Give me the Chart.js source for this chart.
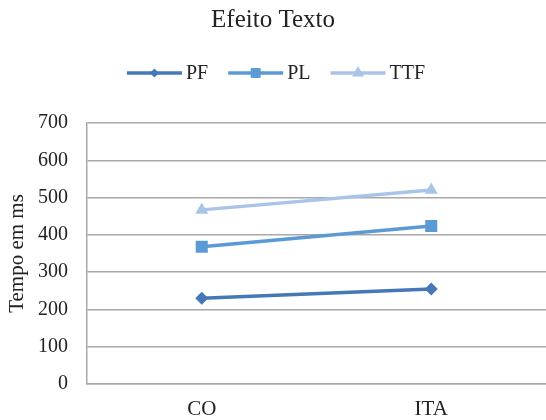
<!DOCTYPE html>
<html lang="pt">
<head>
  <meta charset="UTF-8">
  <title>Efeito Texto</title>
  <style>
    body {
      margin: 0;
      padding: 0;
      background-color: #fff;
    }
    .wrap {
      width: 546px;
      height: 420px;
    }
  </style>
</head>
<body>
  <div class="wrap">
    <canvas id="chart" width="546" height="420"></canvas>
  </div>

  <script src="https://cdn.jsdelivr.net/npm/chart.js"></script>
  <script>
    // data
    const categories = ['CO', 'ITA'];
    const seriesNames = ['PF', 'PL', 'TTF'];
    const pfValues = [230, 255];
    const plValues = [368, 424];
    const ttfValues = [467, 520];
    const yTicks = [0, 100, 200, 300, 400, 500, 600, 700];

    const colors = ['#4677b8', '#5b9bd5', '#a9c4e9'];
    const markers = ['rectRot', 'rect', 'triangle'];
    const markerSizes = [6.5, 8.5, 7.5];
    const legendMarkerSizes = [4.5, 7, 7];
    const serif = "'Liberation Serif', 'Times New Roman', serif";
    const gridColor = '#a8a8a8';

    // legend drawn by hand: line with the marker in the middle, like office charts
    const lineLegend = {
      id: 'lineLegend',
      afterDraw(chart) {
        const ctx = chart.ctx;
        const y = 73;
        const lineLen = 55;
        const gap = 4;
        const spacing = 20;
        ctx.save();
        ctx.font = '20px ' + serif;
        const widths = seriesNames.map(n => lineLen + gap + ctx.measureText(n).width);
        const total = widths.reduce((a, b) => a + b, 0) + spacing * (widths.length - 1);
        let x = (chart.width - total) / 2 + 3;
        seriesNames.forEach((name, i) => {
          ctx.strokeStyle = colors[i];
          ctx.lineWidth = 3.5;
          ctx.beginPath();
          ctx.moveTo(x, y);
          ctx.lineTo(x + lineLen, y);
          ctx.stroke();
          ctx.fillStyle = colors[i];
          Chart.helpers.drawPoint(ctx, {
            pointStyle: markers[i],
            radius: legendMarkerSizes[i],
            rotation: 0,
            borderWidth: 0
          }, x + lineLen / 2, y);
          ctx.fillStyle = '#222';
          ctx.textBaseline = 'middle';
          ctx.textAlign = 'left';
          ctx.fillText(name, x + lineLen + gap, y + 1);
          x += widths[i] + spacing;
        });
        ctx.restore();
      }
    };

    const valueSets = [pfValues, plValues, ttfValues];
    const datasets = seriesNames.map((name, i) => ({
      label: name,
      data: valueSets[i],
      borderColor: colors[i],
      backgroundColor: colors[i],
      borderWidth: 3.5,
      pointStyle: markers[i],
      pointRadius: markerSizes[i],
      pointBorderWidth: 0,
      tension: 0
    }));

    new Chart(document.getElementById('chart').getContext('2d'), {
      type: 'line',
      data: { labels: categories, datasets: datasets },
      plugins: [lineLegend],
      options: {
        responsive: false,
        animation: false,
        layout: { padding: 0, autoPadding: false },
        plugins: {
          legend: { display: false },
          tooltip: { enabled: false },
          title: {
            display: true,
            text: 'Efeito Texto',
            color: '#222',
            font: { family: serif, size: 25, weight: 'normal' },
            padding: { top: 5, bottom: 88 }
          }
        },
        scales: {
          x: {
            offset: true,
            grid: { display: false, drawTicks: false },
            border: { display: true, color: gridColor, width: 1.5 },
            ticks: {
              color: '#222',
              padding: 13,
              font: { family: serif, size: 21 }
            },
            afterFit(scale) {
              scale.height = 36;
              scale.paddingLeft = 0;
              scale.paddingRight = 0;
            }
          },
          y: {
            min: 0,
            max: 700,
            afterBuildTicks(scale) {
              scale.ticks = yTicks.map(v => ({ value: v }));
            },
            grid: { color: gridColor, lineWidth: 1.5, drawTicks: false },
            border: { display: true, color: gridColor, width: 1.5 },
            ticks: {
              color: '#222',
              padding: 19,
              font: { family: serif, size: 20 }
            },
            title: {
              display: true,
              text: 'Tempo em ms',
              color: '#222',
              font: { family: serif, size: 21 },
              padding: { top: 5, bottom: 2 }
            },
            afterFit(scale) {
              scale.width = 87;
              scale.paddingTop = 0;
              scale.paddingBottom = 0;
            }
          }
        }
      }
    });
  </script>
</body>
</html>
